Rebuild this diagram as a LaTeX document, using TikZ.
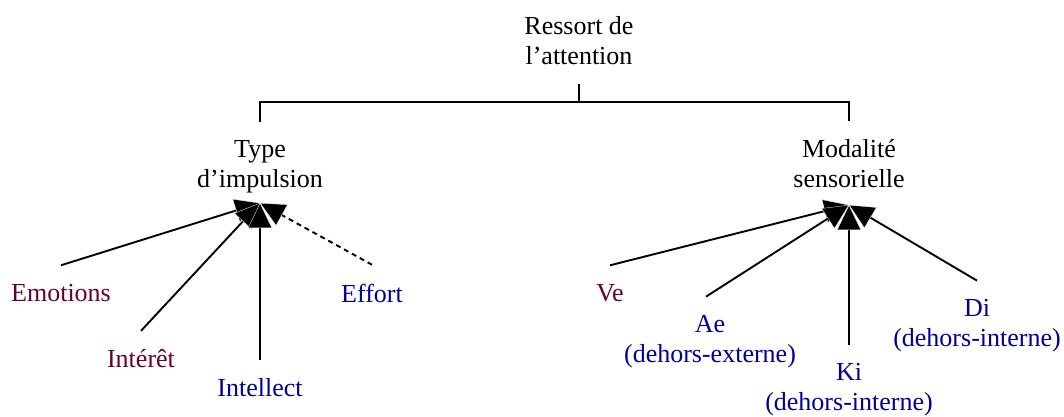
\documentclass[tikz,border=0pt]{standalone}
\usepackage{fontspec}
\setmainfont{Liberation Serif}
\usetikzlibrary{positioning,arrows.meta}
\definecolor{wine}{RGB}{102,0,51}
\definecolor{deepblue}{RGB}{0,0,153}

\begin{document}
\begin{tikzpicture}[x=1pt,y=-1pt,line width=1.9pt,
>={Triangle[length=25pt,width=24pt,fill=black,color=white,line width=0.3pt]},
txt/.style={align=center,inner sep=0pt,outer ysep=19pt,font=\fontsize{26}{30}\selectfont},
head/.style={txt,text=black},
leafr/.style={txt,text=wine},
leafb/.style={txt,text=deepblue}]
\useasboundingbox (0,0) rectangle (1064,416);
\node[head] (root) at (579,41) {Ressort de\\l’attention};
\node[head] (imp) at (260,167) {Type\\d’impulsion};
\node[head] (mod) at (849,164) {Modalité\\sensorielle};
\coordinate (fork) at (579,102);
\draw (root.south) -- (fork); \draw (fork) -| (imp.north); \draw (fork) -| (mod.north);
% leaves of the left branch
\node[leafr] (emo) at (61,293) {Emotions};
\node[leafr] (intr) at (141,359) {Intérêt};
\node[leafb] (intl) at (260,388) {Intellect};
\node[leafb] (eff) at (372,293) {Effort};
% leaves of the right branch
\node[leafr] (ve) at (610,293) {Ve};
\node[leafb] (ae) at (710,342) {Ae\\(dehors-externe)};
\node[leafb] (ki) at (849,390) {Ki\\(dehors-interne)};
\node[leafb] (di) at (977,326) {Di\\(dehors-interne)};
\coordinate (impin) at (260,203);
\coordinate (modin) at (849,205);
\draw[->] (emo.north)--(impin); \draw[->] (intr.north)--(impin); \draw[->] (intl.north)--(impin);
\draw[->,dash pattern=on 5pt off 4pt] (eff.north)--(impin);
\draw[->] (ve.north)--(modin); \draw[->] ([xshift=-4pt]ae.north)--(modin); \draw[->] (ki.north)--(modin); \draw[->] (di.north)--(modin);
\end{tikzpicture}
\end{document}
